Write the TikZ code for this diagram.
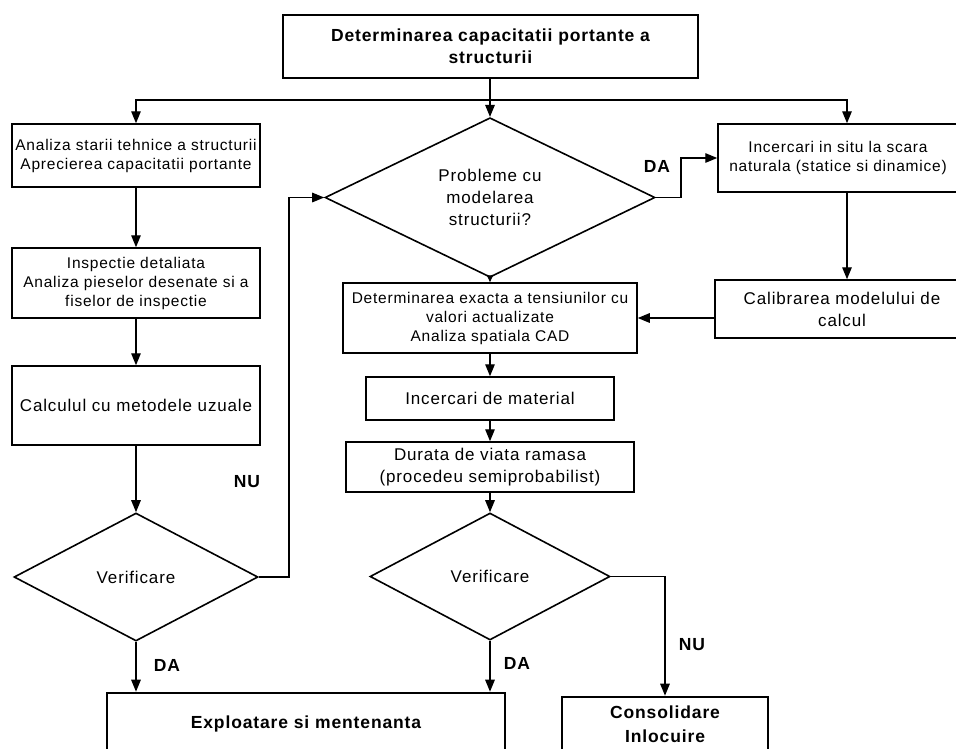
\documentclass[tikz,border=0pt]{standalone}
\usepackage{fontspec}
\setmainfont{Liberation Sans}
\newfontfamily\flowfont[LetterSpace=5]{Liberation Sans}
\usetikzlibrary{shapes.geometric,arrows.meta}
\begin{document}
\begin{tikzpicture}[x=1pt,y=-1pt,
  smalltxt/.style={font=\flowfont\fontsize{15.5}{19}\selectfont},
  largetxt/.style={font=\flowfont\fontsize{17}{22}\selectfont},
  boldtxt/.style={font=\flowfont\bfseries\fontsize{17.5}{22}\selectfont},
  box/.style={draw,line width=1.5pt,inner sep=0pt,align=center},
  endbox/.style={draw,line width=2.6pt,inner sep=0pt,align=center,
    font=\flowfont\bfseries\fontsize{17.5}{24}\selectfont},
  decision/.style={draw,diamond,line width=1.6pt,inner sep=0pt,align=center,largetxt},
  flow/.style={line width=1.4pt,-{Triangle[length=12pt,width=9.5pt]}},
  shortflow/.style={line width=1.4pt,-{Triangle[length=7pt,width=6pt]}},
  plain/.style={line width=1.4pt},
  lbl/.style={font=\flowfont\bfseries\fontsize{17.5}{20}\selectfont}
]
\clip (0,0) rectangle (956,748);
\fill[white] (0,0) rectangle (956,748);

% boxes
\node[box,boldtxt,minimum width=415,minimum height=63] (top) at (490.5,46.5)
  {Determinarea capacitatii portante a\\structurii};
\node[box,smalltxt,minimum width=248,minimum height=63] (A1) at (136,155.5)
  {Analiza starii tehnice a structurii\\Aprecierea capacitatii portante};
\node[box,smalltxt,minimum width=248,minimum height=70] (A2) at (136,283)
  {Inspectie detaliata\\Analiza pieselor desenate si a\\fiselor de inspectie};
\node[box,largetxt,minimum width=248,minimum height=79] (A3) at (136,405.5)
  {Calculul cu metodele uzuale};
\node[decision,minimum width=244,minimum height=128] (V1) at (136,577)
  {Verificare};
\node[decision,minimum width=330,minimum height=145] (P) at (490,197.5)
  {Probleme cu\\modelarea\\structurii?};
\node[box,smalltxt,minimum width=240,minimum height=68] (R1) at (838,158)
  {Incercari in situ la scara\\naturala (statice si dinamice)};
\node[box,largetxt,minimum width=254,minimum height=58] (Cal) at (842,309)
  {Calibrarea modelului de\\calcul};
\node[box,smalltxt,minimum width=294,minimum height=70] (D) at (490,318)
  {Determinarea exacta a tensiunilor cu\\valori actualizate\\Analiza spatiala CAD};
\node[box,largetxt,minimum width=248,minimum height=43] (I) at (490,398.5)
  {Incercari de material};
\node[box,largetxt,minimum width=288,minimum height=50] (Dur) at (490,467)
  {Durata de viata ramasa\\(procedeu semiprobabilist)};
\node[decision,minimum width=240,minimum height=127] (V2) at (490,576.5)
  {Verificare};
\node[endbox,minimum width=398,minimum height=62] (E) at (306,724)
  {Exploatare si mentenanta};
\node[endbox,minimum width=206,minimum height=54] (C) at (665,724)
  {Consolidare\\Inlocuire};

% distribution from the top box
\coordinate (split) at (490,100);
\draw[plain] (top.south -| split) -- (split);
\draw[flow] (split) -| (A1.north);
\draw[flow] (split) -- (P.north);
\draw[flow] (split) -| ([xshift=9pt]R1.north);

% left branch
\draw[flow] (A1) -- (A2);
\draw[flow] (A2) -- (A3);
\draw[flow] (A3) -- (V1);
\draw[flow] (V1.east) -- ++(30,0) |- (P.west);
\draw[flow] (V1.south) -- (V1.south |- E.north);

% right branch
\draw[flow] (P.east) -- ++(25,0) |- (R1.west);
\draw[flow] ([xshift=9pt]R1.south) -- ([xshift=9pt]R1.south |- Cal.north);
\draw[flow] (Cal.west |- D.east) -- (D.east);

% middle chain
\draw[shortflow] (P.south) -- (D.north);
\draw[flow] (D) -- (I);
\draw[flow] (I) -- (Dur);
\draw[flow] (Dur) -- (V2);
\draw[flow] (V2.south) -- (V2.south |- E.north);
\draw[flow] (V2.east) -| (C.north);

% branch labels
\node[lbl] (nu1) at (247,482) {NU};
\node[lbl] (da1) at (167,665) {DA};
\node[lbl] (da2) at (657,166) {DA};
\node[lbl] (da3) at (517,663) {DA};
\node[lbl] (nu2) at (692,645) {NU};
\end{tikzpicture}
\end{document}
